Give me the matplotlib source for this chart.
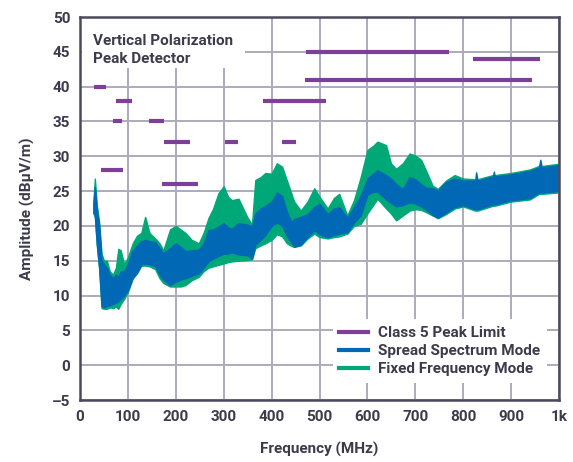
import matplotlib
matplotlib.use("Agg")
import matplotlib.pyplot as plt
from matplotlib.lines import Line2D
from matplotlib.patches import Rectangle

plt.rcParams['font.family'] = ['Roboto', 'DejaVu Sans']

# ---- data ----
freq = [28, 31, 35, 40, 45, 50, 56, 62, 69, 75, 80, 85, 92, 100, 110, 119, 128, 136, 145,
        157, 166, 174, 188, 200, 210, 220, 233, 248, 258, 268, 278, 289, 300, 309, 317, 331,
        349, 359, 366, 377, 387, 400, 411, 422, 432, 442, 447, 461, 475, 489, 500, 517, 530,
        541, 558, 572, 586, 600, 612, 621, 639, 649, 660, 674, 688, 700, 712, 722, 736, 747,
        764, 782, 800, 825, 827, 830, 862, 864, 866, 900, 939, 958, 961, 964, 997]
fixed_hi = [23.5, 26.8, 23.0, 20.5, 16.0, 15.0, 15.0, 13.5, 13.0, 14.0, 16.7, 16.5, 14.5, 15.5,
            17.5, 18.6, 19.0, 21.3, 19.0, 18.2, 17.5, 16.5, 19.5, 20.0, 19.5, 19.0, 18.0, 17.5,
            19.0, 21.1, 22.5, 24.7, 25.7, 24.2, 23.7, 23.9, 21.3, 20.2, 26.6, 27.0, 27.6, 27.5,
            29.0, 28.5, 26.5, 24.5, 23.5, 22.2, 23.5, 25.4, 24.2, 22.5, 24.0, 24.6, 21.5, 23.7,
            27.0, 30.9, 31.5, 32.1, 31.6, 29.0, 28.2, 29.0, 30.4, 30.1, 29.5, 28.0, 25.8, 25.3,
            26.5, 27.3, 26.8, 26.7, 26.7, 26.7, 27.3, 27.3, 27.3, 27.6, 28.1, 28.6, 28.6, 28.6, 28.9]
fixed_lo = [21.8, 21.3, 17.3, 13.8, 8.2, 8.1, 8.1, 8.3, 8.2, 8.4, 8.1, 8.8, 9.5, 10.5, 12.5,
            13.2, 14.3, 14.3, 14.2, 13.8, 12.5, 11.8, 11.3, 11.3, 11.3, 11.5, 12.2, 12.7, 13.5,
            14.0, 14.2, 14.4, 14.6, 14.8, 14.9, 15.0, 15.1, 15.2, 16.8, 17.2, 17.5, 18.0, 18.8,
            18.5, 17.5, 17.1, 17.0, 17.2, 18.2, 18.9, 18.4, 18.2, 18.4, 18.5, 18.9, 20.0, 20.3,
            21.8, 23.0, 23.9, 22.5, 21.8, 20.8, 21.5, 22.2, 22.4, 22.3, 22.0, 21.5, 21.1, 21.7,
            22.5, 22.8, 22.2, 22.2, 22.2, 22.9, 22.9, 22.9, 23.5, 23.8, 24.6, 24.6, 24.6, 24.8]
spread_hi = [23.3, 25.6, 22.5, 20.0, 15.1, 14.5, 14.0, 13.0, 12.5, 13.0, 12.7, 13.5, 13.5, 14.6,
             16.5, 17.2, 17.8, 18.0, 17.8, 17.7, 16.8, 16.1, 16.8, 17.5, 17.0, 16.4, 16.5, 16.6,
             17.5, 19.4, 19.5, 19.9, 20.4, 19.8, 19.6, 20.4, 20.2, 19.9, 21.8, 22.5, 22.9, 23.5,
             24.8, 24.3, 22.0, 20.5, 21.0, 21.3, 21.7, 22.7, 23.2, 21.7, 22.5, 22.7, 21.2, 22.7,
             24.4, 26.8, 27.5, 28.0, 27.3, 26.8, 26.0, 25.3, 27.0, 26.7, 26.0, 25.5, 25.4, 25.1,
             26.3, 26.8, 26.5, 26.5, 27.7, 26.5, 27.1, 27.8, 27.1, 27.4, 27.9, 28.4, 29.5, 28.4, 28.7]
spread_lo = [22.0, 21.5, 17.5, 14.0, 8.5, 8.3, 8.5, 8.6, 8.8, 9.0, 9.2, 9.5, 10.0, 10.8, 12.5,
             13.3, 14.5, 14.6, 14.5, 14.2, 13.0, 12.3, 11.5, 12.0, 12.3, 12.5, 12.8, 13.2, 14.0,
             14.9, 15.3, 15.7, 16.0, 16.0, 16.2, 15.9, 15.8, 15.3, 17.3, 18.0, 18.7, 20.0, 20.5,
             20.0, 18.5, 17.6, 17.0, 17.3, 18.4, 19.4, 18.8, 18.4, 18.7, 18.9, 19.1, 20.5, 21.5,
             24.5, 24.9, 24.9, 23.8, 23.3, 22.8, 23.0, 23.4, 23.2, 22.8, 22.4, 21.6, 21.2, 21.9,
             22.7, 23.0, 22.4, 22.4, 22.4, 23.1, 23.1, 23.1, 23.7, 24.0, 24.8, 24.8, 24.8, 25.0]

limit_level = [40, 38, 35, 35, 32, 28, 26, 32, 32, 38, 45, 44, 41]
limit_start = [30, 76, 68, 144, 176, 44, 172, 302, 421, 382, 471, 820, 469]
limit_stop = [54, 108, 87, 176, 230, 90, 246, 330, 451, 513, 770, 960, 943]

x_ticks = [0, 100, 200, 300, 400, 500, 600, 700, 800, 900, 1000]
x_tick_labels = ['0', '100', '200', '300', '400', '500', '600', '700', '800', '900', '1k']
y_ticks = [-5, 0, 5, 10, 15, 20, 25, 30, 35, 40, 45, 50]

PURPLE = '#7E3F98'
BLUE = '#0068B5'
GREEN = '#00A878'
TEXT = '#3B3B4C'
GRID = '#ABABBA'
FS = 11

fig = plt.figure(figsize=(5.73, 4.62), dpi=100)
ax = fig.add_axes([80 / 573, 1 - 400 / 462, 479 / 573, 383 / 462])
ax.set_xlim(0, 1000)
ax.set_ylim(-5, 50)

ax.grid(True, color=GRID, linewidth=1.4, zorder=0)
ax.set_axisbelow(True)

ax.fill_between(freq, fixed_lo, fixed_hi, color=GREEN, linewidth=1.0, edgecolor=GREEN, zorder=3)
ax.fill_between(freq, spread_lo, spread_hi, color=BLUE, linewidth=1.0, edgecolor=BLUE, zorder=4)
ax.hlines(limit_level, limit_start, limit_stop, colors=PURPLE, linewidth=3.0, zorder=5)

# white box behind the title
ax.add_patch(Rectangle((0.004, 0.867), 0.34, 0.133, transform=ax.transAxes,
                       facecolor='white', edgecolor='none', zorder=2))
ax.text(0.028, 0.955, 'Vertical Polarization\nPeak Detector', transform=ax.transAxes,
        ha='left', va='top', fontsize=FS, fontweight='bold', color=TEXT,
        linespacing=1.35, zorder=6)

ax.set_xticks(x_ticks)
ax.set_xticklabels(x_tick_labels)
ax.set_yticks(y_ticks)
ax.set_yticklabels([str(v).replace('-', '\u2013') for v in y_ticks])
ax.tick_params(length=0, pad=7, labelsize=FS, labelcolor=TEXT)
for lab in ax.get_xticklabels() + ax.get_yticklabels():
    lab.set_fontweight('bold')

for s in ax.spines.values():
    s.set_color('#4A4A5C')
    s.set_linewidth(1.8)
    s.set_zorder(7)

ax.set_xlabel('Frequency (MHz)', fontsize=FS, fontweight='bold', color=TEXT, labelpad=13)
ax.set_ylabel('Amplitude (dBµV/m)', fontsize=FS, fontweight='bold', color=TEXT, labelpad=12)

handles = [Line2D([], [], color=PURPLE, linewidth=3),
           Line2D([], [], color=BLUE, linewidth=3),
           Line2D([], [], color=GREEN, linewidth=3)]
labels = ['Class 5 Peak Limit', 'Spread Spectrum Mode', 'Fixed Frequency Mode']
leg = ax.legend(handles, labels, loc='lower right', bbox_to_anchor=(0.99, 0.025),
                frameon=True, fancybox=False, framealpha=1, facecolor='white',
                edgecolor='none', fontsize=FS, handlelength=1.9, handletextpad=0.6,
                labelspacing=0.25, borderpad=0.45)
for t in leg.get_texts():
    t.set_color(TEXT)
    t.set_fontweight('bold')
leg.set_zorder(8)

fig.savefig('out.png', dpi=100)
